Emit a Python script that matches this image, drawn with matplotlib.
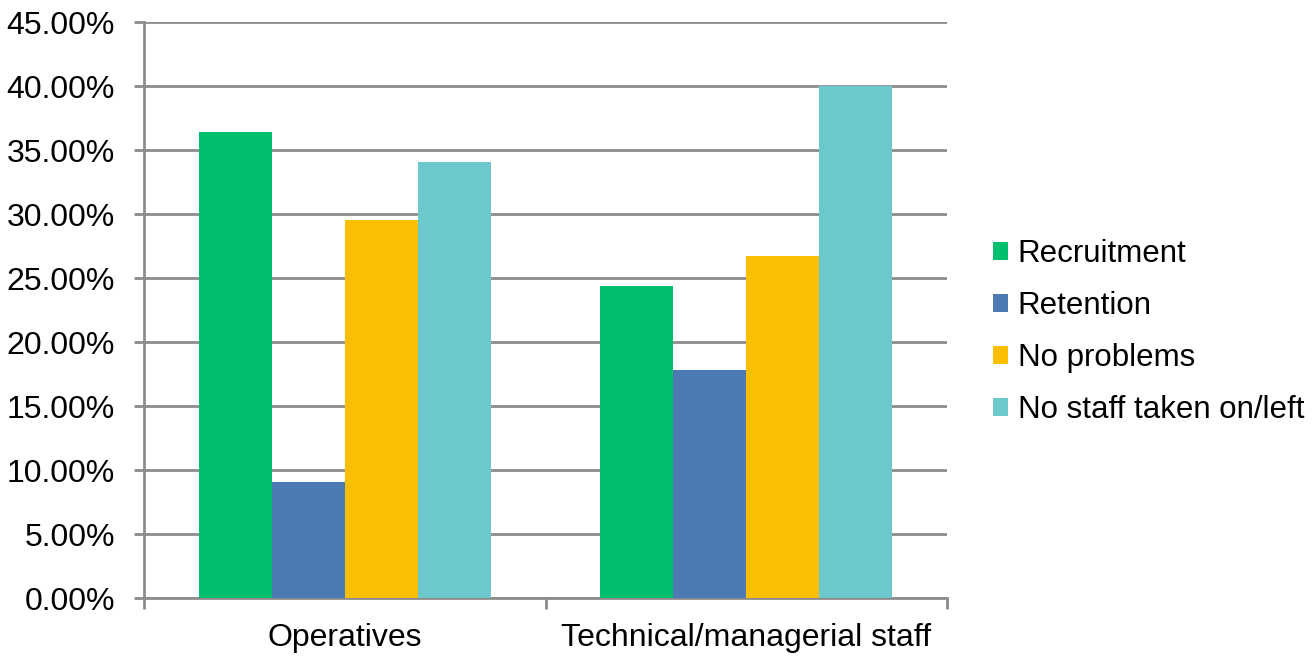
import numpy as np
import matplotlib
matplotlib.use('Agg')
import matplotlib.pyplot as plt
from matplotlib.ticker import FuncFormatter

plt.rcParams['font.family'] = ['Liberation Sans', 'DejaVu Sans']

categories = ['Operatives', 'Technical/managerial staff']
series = ['Recruitment', 'Retention', 'No problems', 'No staff taken on/left']
recruitment = [36.4, 24.4]
retention = [9.1, 17.8]
no_problems = [29.5, 26.7]
no_staff = [34.1, 40.0]
colors = ['#00BF6F', '#4E7AB3', '#F9BF00', '#6CC8CC']

values = [recruitment, retention, no_problems, no_staff]

fig = plt.figure(figsize=(13.16, 6.56), dpi=100)
ax = fig.add_axes([144/1316, 1-598/656, (947-144)/1316, (598-22)/656])

grid_col = '#8C8C8C'
fs = 23
w = 1/5.5
x = np.arange(len(categories))
for i, (vals, name) in enumerate(zip(values, series)):
    ax.bar(x + (i-1.5)*w, vals, width=w, color=colors[i], label=name, zorder=3)

ax.set_xlim(-0.5, 1.5)
ax.set_ylim(0, 45)
ax.set_yticks(np.arange(0, 46, 5))
ax.yaxis.set_major_formatter(FuncFormatter(lambda v, p: f'{v:.2f}%'))
ax.yaxis.grid(True, color=grid_col, lw=2, zorder=0)
ax.set_axisbelow(True)

ax.set_xticks([-0.5, 0.5, 1.5])
ax.set_xticklabels([])
ax.set_xticks(x, minor=True)
ax.set_xticklabels(categories, minor=True)
ax.tick_params(axis='x', which='minor', length=0, pad=18, labelsize=fs)
ax.tick_params(axis='x', which='major', length=8, width=2, color=grid_col)
ax.tick_params(axis='y', length=7, width=2, color=grid_col, labelsize=fs, pad=14)

for s in ['top', 'right']:
    ax.spines[s].set_visible(False)
for s in ['left', 'bottom']:
    ax.spines[s].set_color(grid_col)
    ax.spines[s].set_linewidth(2)

ax.legend(loc='center left', bbox_to_anchor=(980/1316, 1-332/656), bbox_transform=fig.transFigure,
          frameon=False, fontsize=22.5, handlelength=0.5, handleheight=0.5,
          handletextpad=0.3, labelspacing=0.7, borderaxespad=0)

fig.savefig('out.png', dpi=100)
